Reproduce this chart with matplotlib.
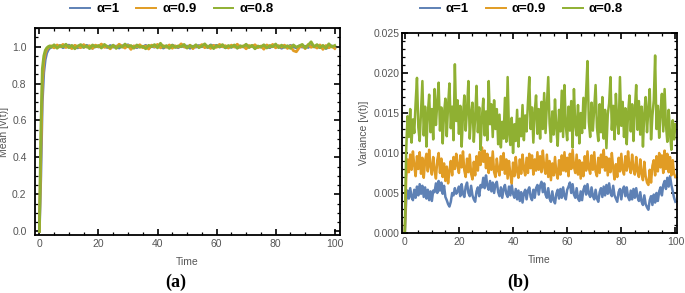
import numpy as np
import matplotlib.pyplot as plt
from matplotlib.ticker import MultipleLocator

# ---------------------
# DATA
# ---------------------
labels = ["α=1", "α=0.9", "α=0.8"]
colors = ["#5E81B5", "#E19C24", "#8FB032"]

# mean: fine steps during the rise, then one point per time unit
t_mean = np.concatenate([np.arange(0, 4, 0.5), np.arange(4, 101, 1)])

mean_a1 = [0.0, 0.30, 0.70, 0.86, 0.93, 0.965, 0.982, 0.992,
           0.996, 1.003, 0.998, 1.006, 0.994, 1.001, 1.008, 0.997, 1.004, 0.993,
           1.002, 0.996, 1.007, 0.999, 0.991, 1.004, 0.998, 1.009, 1.001, 0.995,
           1.006, 0.997, 1.003, 0.992, 1.005, 0.999, 1.010, 0.996, 1.002, 0.994,
           1.004, 0.998, 1.007, 0.993, 1.001, 0.997, 1.006, 0.999, 0.992, 1.003,
           0.996, 1.008, 1.000, 0.994, 1.005, 0.998, 1.003, 0.991, 1.002, 0.997,
           1.006, 0.999, 1.004, 0.995, 1.009, 1.003, 1.007, 0.998, 1.002, 0.994,
           1.001, 0.996, 1.005, 0.993, 1.003, 0.998, 1.008, 0.997, 1.004, 0.992,
           1.002, 0.997, 1.006, 0.999, 0.994, 1.005, 0.998, 1.003, 0.991, 1.000,
           0.996, 1.007, 0.999, 0.993, 1.004, 0.997, 1.002, 0.995, 1.006, 0.998,
           1.003, 0.994, 1.001, 0.990, 0.997, 1.004, 0.993]

mean_a09 = [0.0, 0.42, 0.80, 0.92, 0.965, 0.985, 0.995, 1.0,
            1.004, 0.993, 1.009, 0.998, 1.012, 0.995, 1.003, 0.989, 1.007, 1.000,
            0.994, 1.011, 0.997, 1.005, 0.990, 1.008, 0.999, 1.014, 0.996, 1.002,
            0.988, 1.006, 0.995, 1.013, 1.001, 0.992, 1.007, 0.985, 1.004, 0.998,
            1.010, 0.994, 1.003, 0.987, 1.008, 0.999, 1.012, 0.993, 1.005, 0.996,
            1.009, 0.991, 1.004, 0.997, 1.015, 1.000, 0.993, 1.008, 0.989, 1.006,
            0.998, 1.011, 0.994, 1.003, 0.990, 1.007, 0.996, 1.012, 0.999, 1.005,
            0.992, 1.008, 0.997, 1.013, 0.995, 1.004, 0.988, 1.006, 1.000, 1.010,
            0.994, 1.003, 0.986, 1.009, 0.998, 1.012, 0.993, 1.005, 0.997, 1.008,
            0.990, 1.004, 0.978, 0.972, 0.995, 1.007, 0.989, 1.011, 0.996, 1.003,
            0.992, 1.009, 0.985, 1.006, 0.994, 1.002, 0.990]

mean_a08 = [0.0, 0.55, 0.88, 0.95, 0.98, 0.993, 1.0, 1.004,
            0.997, 1.010, 0.991, 1.005, 0.999, 1.013, 0.994, 1.007, 0.988, 1.003,
            1.011, 0.996, 1.004, 0.989, 1.009, 0.998, 1.006, 0.992, 1.012, 1.000,
            0.995, 1.008, 0.990, 1.004, 0.997, 1.014, 0.999, 1.006, 0.991, 1.009,
            0.996, 1.002, 0.988, 1.007, 1.000, 1.011, 0.993, 1.018, 0.997, 1.005,
            0.990, 1.008, 0.995, 1.004, 0.999, 1.012, 0.992, 1.006, 0.997, 1.010,
            0.994, 1.003, 1.015, 0.996, 1.007, 0.989, 1.005, 0.998, 1.011, 0.993,
            1.006, 0.997, 1.009, 0.991, 1.004, 1.000, 1.013, 0.995, 1.007, 0.988,
            1.003, 0.998, 1.010, 0.992, 1.006, 0.999, 1.014, 0.994, 1.008, 0.996,
            1.005, 0.990, 1.009, 0.997, 1.004, 1.012, 0.993, 1.008, 1.026, 0.999,
            1.011, 0.994, 1.007, 0.991, 1.015, 0.998, 1.006]

# variance: every half time unit
t_var = np.arange(0, 100.5, 0.5)

var_a1 = [0.0000, 0.0040, 0.0053, 0.0043, 0.0056, 0.0045, 0.0041, 0.0054, 0.0044, 0.0058,
          0.0047, 0.0061, 0.0049, 0.0059, 0.0045, 0.0057, 0.0043, 0.0054, 0.0041, 0.0052,
          0.0040, 0.0053, 0.0051, 0.0062, 0.0050, 0.0065, 0.0053, 0.0063, 0.0049, 0.0059,
          0.0045, 0.0041, 0.0036, 0.0033, 0.0039, 0.0050, 0.0047, 0.0056, 0.0049, 0.0052,
          0.0058, 0.0046, 0.0061, 0.0049, 0.0045, 0.0058, 0.0063, 0.0050, 0.0046, 0.0059,
          0.0047, 0.0042, 0.0039, 0.0052, 0.0057, 0.0046, 0.0060, 0.0057, 0.0069, 0.0056,
          0.0072, 0.0059, 0.0054, 0.0065, 0.0052, 0.0063, 0.0050, 0.0061, 0.0064, 0.0051,
          0.0046, 0.0057, 0.0044, 0.0055, 0.0060, 0.0049, 0.0045, 0.0058, 0.0047, 0.0060,
          0.0049, 0.0044, 0.0055, 0.0042, 0.0053, 0.0040, 0.0051, 0.0038, 0.0050, 0.0054,
          0.0042, 0.0053, 0.0057, 0.0045, 0.0041, 0.0054, 0.0044, 0.0056, 0.0060, 0.0048,
          0.0059, 0.0064, 0.0051, 0.0062, 0.0048, 0.0044, 0.0056, 0.0043, 0.0039, 0.0052,
          0.0041, 0.0037, 0.0049, 0.0054, 0.0043, 0.0055, 0.0044, 0.0057, 0.0046, 0.0042,
          0.0054, 0.0058, 0.0063, 0.0050, 0.0061, 0.0048, 0.0044, 0.0056, 0.0043, 0.0040,
          0.0052, 0.0041, 0.0054, 0.0059, 0.0048, 0.0061, 0.0049, 0.0045, 0.0057, 0.0046,
          0.0042, 0.0054, 0.0043, 0.0039, 0.0051, 0.0056, 0.0045, 0.0058, 0.0047, 0.0060,
          0.0049, 0.0062, 0.0050, 0.0046, 0.0059, 0.0047, 0.0043, 0.0039, 0.0051, 0.0055,
          0.0042, 0.0054, 0.0058, 0.0046, 0.0057, 0.0045, 0.0041, 0.0053, 0.0042, 0.0055,
          0.0044, 0.0056, 0.0045, 0.0040, 0.0051, 0.0039, 0.0035, 0.0047, 0.0036, 0.0032,
          0.0029, 0.0041, 0.0046, 0.0035, 0.0048, 0.0038, 0.0050, 0.0040, 0.0052, 0.0057,
          0.0047, 0.0060, 0.0065, 0.0055, 0.0069, 0.0058, 0.0071, 0.0060, 0.0052, 0.0044,
          0.0039]

var_a09 = [0.0000, 0.0068, 0.0092, 0.0076, 0.0098, 0.0079, 0.0102, 0.0084, 0.0071, 0.0096,
           0.0080, 0.0101, 0.0074, 0.0094, 0.0069, 0.0090, 0.0099, 0.0077, 0.0104, 0.0083,
           0.0073, 0.0095, 0.0079, 0.0068, 0.0091, 0.0100, 0.0075, 0.0093, 0.0070, 0.0087,
           0.0065, 0.0083, 0.0062, 0.0078, 0.0090, 0.0072, 0.0095, 0.0080, 0.0099, 0.0084,
           0.0075, 0.0097, 0.0082, 0.0102, 0.0078, 0.0070, 0.0093, 0.0076, 0.0098, 0.0074,
           0.0067, 0.0089, 0.0072, 0.0096, 0.0078, 0.0101, 0.0085, 0.0107, 0.0089, 0.0103,
           0.0081, 0.0099, 0.0075, 0.0094, 0.0079, 0.0102, 0.0076, 0.0070, 0.0093, 0.0078,
           0.0072, 0.0096, 0.0079, 0.0100, 0.0074, 0.0092, 0.0068, 0.0090, 0.0073, 0.0062,
           0.0088, 0.0071, 0.0095, 0.0077, 0.0069, 0.0092, 0.0074, 0.0098, 0.0080, 0.0072,
           0.0094, 0.0075, 0.0099, 0.0081, 0.0097, 0.0073, 0.0092, 0.0078, 0.0101, 0.0079,
           0.0096, 0.0076, 0.0103, 0.0082, 0.0074, 0.0098, 0.0070, 0.0090, 0.0066, 0.0087,
           0.0072, 0.0095, 0.0075, 0.0068, 0.0091, 0.0073, 0.0097, 0.0078, 0.0101, 0.0077,
           0.0094, 0.0071, 0.0099, 0.0080, 0.0104, 0.0083, 0.0075, 0.0098, 0.0073, 0.0091,
           0.0068, 0.0088, 0.0071, 0.0096, 0.0078, 0.0102, 0.0081, 0.0074, 0.0097, 0.0079,
           0.0101, 0.0077, 0.0071, 0.0094, 0.0075, 0.0098, 0.0082, 0.0104, 0.0078, 0.0095,
           0.0072, 0.0093, 0.0076, 0.0100, 0.0081, 0.0067, 0.0086, 0.0070, 0.0094, 0.0077,
           0.0099, 0.0079, 0.0073, 0.0096, 0.0078, 0.0102, 0.0083, 0.0075, 0.0098, 0.0080,
           0.0073, 0.0095, 0.0077, 0.0070, 0.0092, 0.0074, 0.0066, 0.0089, 0.0071, 0.0063,
           0.0060, 0.0079, 0.0063, 0.0084, 0.0091, 0.0072, 0.0096, 0.0077, 0.0100, 0.0082,
           0.0097, 0.0075, 0.0103, 0.0080, 0.0099, 0.0076, 0.0095, 0.0072, 0.0091, 0.0074,
           0.0070]

var_a08 = [0.0000, 0.0102, 0.0146, 0.0120, 0.0155, 0.0113, 0.0142, 0.0125, 0.0163, 0.0194,
           0.0132, 0.0115, 0.0152, 0.0190, 0.0122, 0.0158, 0.0108, 0.0149, 0.0173, 0.0126,
           0.0155, 0.0117, 0.0180, 0.0135, 0.0163, 0.0188, 0.0128, 0.0157, 0.0112, 0.0150,
           0.0168, 0.0121, 0.0160, 0.0187, 0.0131, 0.0158, 0.0116, 0.0211, 0.0140, 0.0166,
           0.0124, 0.0159, 0.0108, 0.0147, 0.0172, 0.0128, 0.0155, 0.0190, 0.0118, 0.0149,
           0.0163, 0.0114, 0.0145, 0.0184, 0.0126, 0.0157, 0.0104, 0.0144, 0.0168, 0.0122,
           0.0152, 0.0116, 0.0190, 0.0136, 0.0161, 0.0120, 0.0166, 0.0130, 0.0155, 0.0111,
           0.0148, 0.0107, 0.0139, 0.0118, 0.0169, 0.0114, 0.0195, 0.0126, 0.0110, 0.0144,
           0.0100, 0.0136, 0.0115, 0.0154, 0.0108, 0.0143, 0.0121, 0.0160, 0.0116, 0.0147,
           0.0127, 0.0163, 0.0195, 0.0130, 0.0157, 0.0113, 0.0151, 0.0172, 0.0124, 0.0155,
           0.0118, 0.0164, 0.0130, 0.0175, 0.0125, 0.0160, 0.0195, 0.0137, 0.0114, 0.0152,
           0.0123, 0.0167, 0.0131, 0.0109, 0.0154, 0.0127, 0.0178, 0.0120, 0.0185, 0.0134,
           0.0116, 0.0158, 0.0128, 0.0165, 0.0107, 0.0180, 0.0135, 0.0122, 0.0160, 0.0112,
           0.0150, 0.0125, 0.0169, 0.0131, 0.0176, 0.0215, 0.0139, 0.0120, 0.0163, 0.0128,
           0.0157, 0.0185, 0.0132, 0.0115, 0.0161, 0.0126, 0.0170, 0.0118, 0.0154, 0.0106,
           0.0148, 0.0162, 0.0195, 0.0129, 0.0159, 0.0117, 0.0174, 0.0138, 0.0124, 0.0195,
           0.0134, 0.0164, 0.0120, 0.0156, 0.0111, 0.0149, 0.0172, 0.0127, 0.0161, 0.0115,
           0.0153, 0.0185, 0.0129, 0.0165, 0.0123, 0.0158, 0.0108, 0.0150, 0.0170, 0.0126,
           0.0155, 0.0180, 0.0117, 0.0147, 0.0166, 0.0222, 0.0130, 0.0159, 0.0119, 0.0152,
           0.0174, 0.0127, 0.0180, 0.0135, 0.0114, 0.0154, 0.0124, 0.0104, 0.0141, 0.0117,
           0.0136]

# ---------------------
# FIGURE
# ---------------------
plt.rcParams['font.family'] = ['Liberation Sans', 'DejaVu Sans']
fig = plt.figure(figsize=(6.85, 2.93), dpi=100)

ax1 = fig.add_axes([0.051, 0.198, 0.445, 0.706])
ax2 = fig.add_axes([0.587, 0.205, 0.401, 0.682])

grey = '#555555'


def style(ax, xminor, ymajor, yminor, ypad):
    for s in ax.spines.values():
        s.set_linewidth(1.3)
    ax.xaxis.set_major_locator(MultipleLocator(20))
    ax.xaxis.set_minor_locator(MultipleLocator(xminor))
    ax.yaxis.set_major_locator(MultipleLocator(ymajor))
    ax.yaxis.set_minor_locator(MultipleLocator(yminor))
    ax.tick_params(which='both', direction='in', top=True, right=True,
                   labelsize=7.5, labelcolor=grey)
    ax.tick_params(axis='x', pad=3)
    ax.tick_params(axis='y', pad=ypad)
    ax.tick_params(which='major', length=4, width=1.2)
    ax.tick_params(which='minor', length=2, width=0.9)
    ax.set_xlabel("Time", fontsize=7.5, color=grey, labelpad=6)


for ys, lab, c in zip([mean_a1, mean_a09, mean_a08], labels, colors):
    ax1.plot(t_mean, ys, color=c, lw=2.0, label=lab)
ax1.set_xlim(-1.5, 101.7)
ax1.set_ylim(-0.02, 1.10)
style(ax1, 5, 0.2, 0.05, 6)
ax1.yaxis.set_major_formatter(lambda v, p: f"{v:.1f}")
ax1.set_ylabel("Mean [v(t)]", fontsize=7.5, color=grey, labelpad=2)

for ys, lab, c in zip([var_a1, var_a09, var_a08], labels, colors):
    ax2.plot(t_var, ys, color=c, lw=1.8, label=lab)
ax2.set_xlim(-1, 100.5)
ax2.set_ylim(0, 0.025)
style(ax2, 5, 0.005, 0.001, 2)
ax2.yaxis.set_major_formatter(lambda v, p: f"{v:.3f}")
ax2.set_ylabel("Variance [v(t)]", fontsize=7.5, color=grey, labelpad=3)

for ax, x in [(ax1, 0.251), (ax2, 0.761)]:
    h, l = ax.get_legend_handles_labels()
    leg = fig.legend(h, l, loc='center', bbox_to_anchor=(x, 0.968), ncol=3,
                     frameon=False, handlelength=1.5, columnspacing=1.3,
                     handletextpad=0.45, prop={'weight': 'bold', 'size': 9.5})
    for line in leg.get_lines():
        line.set_linewidth(1.4)

fig.text(0.256, 0.036, "(a)", ha='center', va='center', fontsize=13,
         fontweight='bold', family=['Liberation Serif', 'DejaVu Serif'])
fig.text(0.757, 0.038, "(b)", ha='center', va='center', fontsize=13,
         fontweight='bold', family=['Liberation Serif', 'DejaVu Serif'])

fig.savefig("out.png", dpi=100)
